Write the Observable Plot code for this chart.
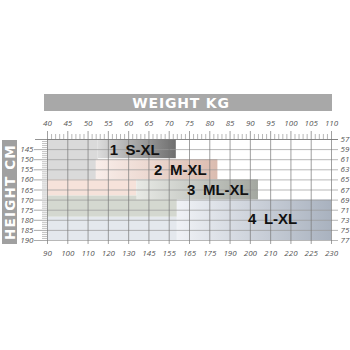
<!DOCTYPE html>
<html><head><meta charset="utf-8">
<script src="https://cdn.jsdelivr.net/npm/d3@7"></script>
<script src="https://cdn.jsdelivr.net/npm/@observablehq/plot@0.6"></script>
<style>
body{margin:0;background:#fff;}
#chart{width:350px;height:350px;}
</style></head><body><div id="chart"></div>
<script>
// ---- data ----
const lbsLabels = [90,100,110,120,130,145,155,165,175,190,200,210,220,225,230];
const kgLabels  = [40,45,50,55,60,65,70,75,80,85,90,95,100,105,110];
const cmLabels  = [145,150,155,160,165,170,175,180,185,190];
const inLabels  = [57,59,61,63,65,67,69,71,73,75,77];
const sizeNames = ["1\u2002S-XL","2\u2002M-XL","3\u2002ML-XL","4\u2002L-XL"];
// weight-column index range and height (cm) range of each size block
const blockCol0 = [2.5, 2.4, 4.4, 6.4];
const blockCol1 = [6.35, 8.4, 10.4, 14];
const blockCm0  = [140, 150, 160, 170];
const blockCm1  = [149.5, 160, 170, 190];
const labelCol  = [4.3, 6.55, 8.4, 11.1];
const labelCm   = [145.3, 155.3, 165, 179.3];
// pale bands extending each size to the left edge
const bandCm0  = [140, 160, 168, 178.5];
const bandCm1  = [160, 168, 178.5, 190];
const bandCol1 = [2.5, 4.4, 6.4, 6.4];
const bandFills = ["#dadada", "#f6e2da", "#d4d8d0", "#e4e8ed"];
const gradStops = [["#dcdcdc","#6e6e6e"],["#f9eeea","#dbbcb0"],["#e8eae6","#a3a7a0"],["#f0f2f6","#a9b2bf"]];

// ---- layout ----
const W=350,H=350,mL=47,mR=19,mT=139,mB=110;
const pxPerCol=(W-mL-mR)/14, pxPerCm=(H-mT-mB)/50;
const cx=p=>p/pxPerCol, cy=p=>p/pxPerCm;
const inToCm = d => 140 + (d-57)*2.5;

const blocks = sizeNames.map((name,i)=>({name,c0:blockCol0[i],c1:blockCol1[i],y0:blockCm0[i],y1:blockCm1[i],lc:labelCol[i],ly:labelCm[i],grad:`url(#grad${i})`}));
const bands = bandCm0.map((y0,i)=>({y0,y1:bandCm1[i],c1:bandCol1[i],fill:bandFills[i]}));
const cols = d3.range(lbsLabels.length);
const minorCols = d3.range(0,14*5+1).filter(k=>k%5).map(k=>k/5);
const minorCm = d3.range(141,190).filter(c=>c%5);

const axisFont = {fontFamily:"Open Sans", fontStyle:"italic", fontSize:8, fill:"#555"};

const plot = Plot.plot({
  width:W,height:H,marginLeft:mL,marginRight:mR,marginTop:mT,marginBottom:mB,
  style:{background:"#fff"},
  x:{domain:[0,14],axis:null},
  y:{domain:[140,190],reverse:true,axis:null},
  color:{type:"identity"},
  marks:[
    Plot.rect(bands,{x1:0,x2:"c1",y1:"y0",y2:"y1",fill:"fill"}),
    Plot.rect(blocks,{x1:"c0",x2:"c1",y1:"y0",y2:"y1",fill:"grad"}),
    // horizontal grid at inch ticks, continuing as right ticks
    Plot.ruleY(inLabels,{y:inToCm,x1:0,x2:14+cx(7),stroke:"#999",strokeWidth:0.7}),
    // vertical grid + bottom ticks
    Plot.ruleX(cols,{x:d=>d,y1:140,y2:190+cy(4),stroke:"#777",strokeWidth:0.7}),
    // top frame line
    Plot.ruleY([140],{x1:-cx(12),x2:14+cx(7),stroke:"#777",strokeWidth:0.8}),
    // top ruler ticks
    Plot.ruleX(cols,{x:d=>d,y1:140,y2:140-cy(8),stroke:"#777",strokeWidth:0.7}),
    Plot.ruleX(minorCols,{x:d=>d,y1:140,y2:140-cy(5),stroke:"#888",strokeWidth:0.6}),
    // left ruler ticks
    Plot.ruleY(cmLabels,{y:d=>d,x1:-cx(13),x2:0,stroke:"#888",strokeWidth:0.7}),
    Plot.ruleY(minorCm,{y:d=>d,x1:-cx(5),x2:0,stroke:"#999",strokeWidth:0.6}),
    // axis labels
    Plot.text(kgLabels,{x:(d,i)=>i,y:140,dy:-16,text:d=>d,...axisFont}),
    Plot.text(lbsLabels,{x:(d,i)=>i,y:190,dy:13,text:d=>d,...axisFont}),
    Plot.text(cmLabels,{x:0,y:d=>d,dx:-14,textAnchor:"end",text:d=>d,...axisFont}),
    Plot.text(inLabels,{x:14,y:inToCm,dx:9,textAnchor:"start",text:d=>d,...axisFont}),
    // size labels
    Plot.text(blocks,{x:"lc",y:"ly",text:"name",fontFamily:"Liberation Sans",fontWeight:"bold",fontSize:15,fill:"#111"})
  ]
});

const svg = d3.select(plot);
const defs = svg.insert("defs",":first-child");
gradStops.forEach((s,i)=>{
  const g = defs.append("linearGradient").attr("id",`grad${i}`).attr("x1",0).attr("x2",1).attr("y1",0).attr("y2",0);
  g.append("stop").attr("offset","0%").attr("stop-color",s[0]);
  g.append("stop").attr("offset","100%").attr("stop-color",s[1]);
});
// title bars
svg.append("rect").attr("x",44).attr("y",94).attr("width",288).attr("height",17).attr("fill","#a8a8a8");
svg.append("text").attr("x",181).attr("y",102.5).attr("text-anchor","middle").attr("dominant-baseline","central")
  .attr("fill","#fff").attr("font-family","DejaVu Sans").attr("font-weight","bold").attr("font-size",14)
  .attr("letter-spacing",0.8).text("WEIGHT KG");
svg.append("rect").attr("x",2).attr("y",140).attr("width",15).attr("height",104).attr("fill","#a0a0a0");
svg.append("text").attr("transform","translate(9.5,192) rotate(-90)").attr("text-anchor","middle").attr("dominant-baseline","central")
  .attr("fill","#fff").attr("font-family","DejaVu Sans").attr("font-weight","bold").attr("font-size",13.5)
  .attr("letter-spacing",1.2).text("HEIGHT CM");

document.getElementById("chart").appendChild(plot);
</script></body></html>
